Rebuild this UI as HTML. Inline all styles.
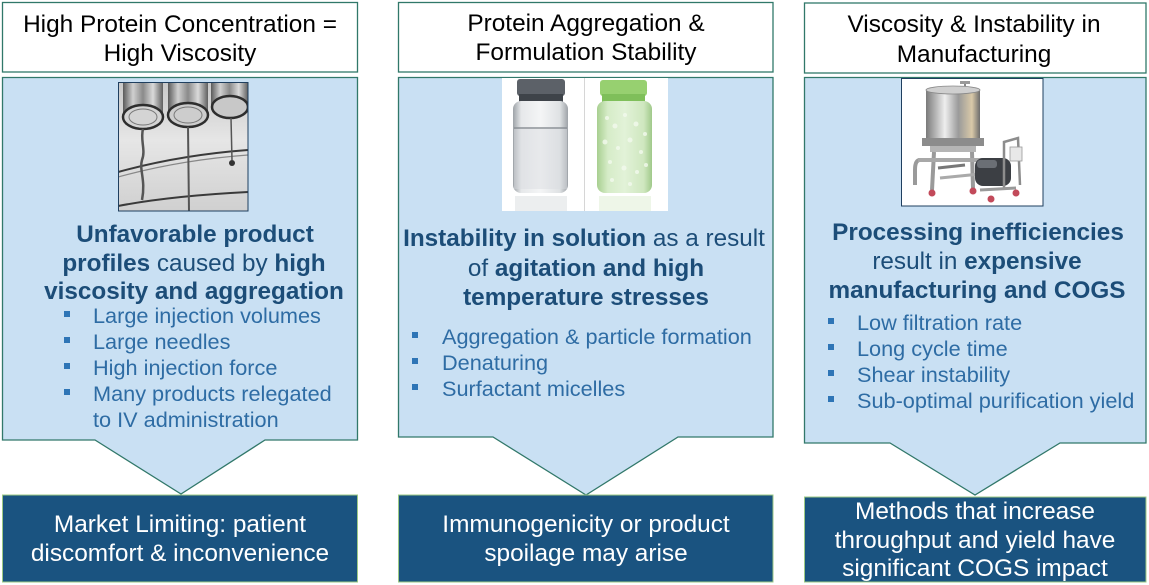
<!DOCTYPE html>
<html><head><meta charset="utf-8"><style>
html,body{margin:0;padding:0;background:#fff;}
svg{display:block;}
text{font-family:"Liberation Sans",Arial,sans-serif;}
</style></head><body>
<svg width="1149" height="585" viewBox="0 0 1149 585" xmlns="http://www.w3.org/2000/svg">
<defs>
<linearGradient id="g1bg" x1="0" y1="0" x2="0" y2="1"><stop offset="0" stop-color="#c8c8c8"/><stop offset="0.45" stop-color="#e6e6e6"/><stop offset="1" stop-color="#d0d0d0"/></linearGradient>
<linearGradient id="tube" x1="0" y1="0" x2="1" y2="0"><stop offset="0" stop-color="#5a5a5a"/><stop offset="0.25" stop-color="#d0d0d0"/><stop offset="0.5" stop-color="#8a8a8a"/><stop offset="0.75" stop-color="#dadada"/><stop offset="1" stop-color="#606060"/></linearGradient>
<linearGradient id="steel" x1="0" y1="0" x2="1" y2="0"><stop offset="0" stop-color="#7a7a7a"/><stop offset="0.35" stop-color="#eeeeee"/><stop offset="0.6" stop-color="#9a9a9a"/><stop offset="0.85" stop-color="#d9c9a8"/><stop offset="1" stop-color="#6d6d6d"/></linearGradient>
<linearGradient id="glass" x1="0" y1="0" x2="1" y2="0"><stop offset="0" stop-color="#9ea3a8"/><stop offset="0.15" stop-color="#e6e8ea"/><stop offset="0.5" stop-color="#f4f5f6"/><stop offset="0.85" stop-color="#dfe2e4"/><stop offset="1" stop-color="#9ea3a8"/></linearGradient>
<linearGradient id="gglass" x1="0" y1="0" x2="1" y2="0"><stop offset="0" stop-color="#a8cf90"/><stop offset="0.2" stop-color="#d6ecc8"/><stop offset="0.5" stop-color="#e2f2d8"/><stop offset="0.85" stop-color="#cfe7bf"/><stop offset="1" stop-color="#a0c98a"/></linearGradient>
<clipPath id="c1"><rect x="118" y="82" width="130" height="129"/></clipPath>
<clipPath id="c3"><rect x="901" y="78" width="142" height="128"/></clipPath>
</defs>

<!-- ===== Column 1 ===== -->
<rect x="2.5" y="2.5" width="355" height="69.5" fill="#fff" stroke="#31786a" stroke-width="1.3"/>
<text x="180" y="32" font-size="24.4" fill="#000" text-anchor="middle">High Protein Concentration =</text>
<text x="180" y="61" font-size="24.4" fill="#000" text-anchor="middle">High Viscosity</text>

<path d="M2.5,77.5 H357.5 V440 H265 L181,494 L95,440 H2.5 Z" fill="#c9e0f3" stroke="#31786a" stroke-width="1.3"/>

<!-- image 1 -->
<g clip-path="url(#c1)">
<rect x="118" y="82" width="130" height="129" fill="url(#g1bg)"/>
<rect x="123" y="78" width="40" height="40" fill="url(#tube)"/>
<rect x="168" y="78" width="40" height="38" fill="url(#tube)"/>
<rect x="211" y="78" width="37" height="30" fill="url(#tube)"/>
<ellipse cx="143" cy="117" rx="20" ry="12" fill="#d4d4d4" stroke="#2e2e2e" stroke-width="2.5"/>
<ellipse cx="143" cy="117" rx="14" ry="8" fill="none" stroke="#777" stroke-width="1"/>
<ellipse cx="188" cy="115" rx="20" ry="12" fill="#cdcdcd" stroke="#2e2e2e" stroke-width="2.5"/>
<ellipse cx="188" cy="115" rx="14" ry="8" fill="none" stroke="#777" stroke-width="1"/>
<ellipse cx="230" cy="107" rx="18" ry="11" fill="#c8c8c8" stroke="#2e2e2e" stroke-width="2.5"/>
<path d="M118,172 Q180,155 248,150" fill="none" stroke="#3a3a3a" stroke-width="2"/>
<path d="M118,177 Q180,160 248,155" fill="none" stroke="#888" stroke-width="1.2"/>
<path d="M118,206 Q170,196 248,192" fill="none" stroke="#3a3a3a" stroke-width="2"/>
<path d="M143,129 C140,140 146,150 142,160 C139,170 146,180 142,200" fill="none" stroke="#555" stroke-width="2.5"/>
<path d="M188,127 L189,211" fill="none" stroke="#555" stroke-width="2"/>
<path d="M231,118 L232,160" fill="none" stroke="#555" stroke-width="1.5"/>
<circle cx="232" cy="163" r="3" fill="#333"/>
</g>
<rect x="118.5" y="82.5" width="129.5" height="128.5" fill="none" stroke="#1f3f5f" stroke-width="1"/>

<text x="195" y="242" font-size="24.3" font-weight="bold" fill="#1c4d78" text-anchor="middle">Unfavorable product</text>
<text x="194" y="271" font-size="24.3" fill="#1c4d78" text-anchor="middle"><tspan font-weight="bold">profiles</tspan> caused by <tspan font-weight="bold">high</tspan></text>
<text x="194" y="299" font-size="24.3" font-weight="bold" fill="#1c4d78" text-anchor="middle">viscosity and aggregation</text>

<g fill="#2e75b6">
<rect x="64" y="311" width="6" height="6"/>
<rect x="64" y="337" width="6" height="6"/>
<rect x="64" y="363" width="6" height="6"/>
<rect x="64" y="389" width="6" height="6"/>
</g>
<g font-size="21.7" fill="#2e6ca4">
<text x="93" y="323">Large injection volumes</text>
<text x="93" y="349">Large needles</text>
<text x="93" y="375">High injection force</text>
<text x="93" y="401">Many products relegated</text>
<text x="93" y="427">to IV administration</text>
</g>

<rect x="2.5" y="495" width="355" height="87" fill="#1a5380" stroke="#9cc984" stroke-width="1"/>
<text x="180" y="532" font-size="24.4" fill="#fff" text-anchor="middle">Market Limiting: patient</text>
<text x="180" y="561" font-size="24.4" fill="#fff" text-anchor="middle">discomfort &amp; inconvenience</text>

<!-- ===== Column 2 ===== -->
<rect x="398.5" y="2.5" width="374.5" height="69.5" fill="#fff" stroke="#31786a" stroke-width="1.3"/>
<text x="586" y="31" font-size="24.4" fill="#000" text-anchor="middle">Protein Aggregation &amp;</text>
<text x="586" y="60" font-size="24.4" fill="#000" text-anchor="middle">Formulation Stability</text>

<path d="M398.5,77.5 H773 V437 H678 L586,495 L493,437 H398.5 Z" fill="#c9e0f3" stroke="#31786a" stroke-width="1.3"/>

<!-- image 2 -->
<rect x="502" y="78" width="166" height="133" fill="#fff"/>
<line x1="584.5" y1="78" x2="584.5" y2="211" stroke="#d6d6d6" stroke-width="1"/>
<rect x="517" y="79" width="48" height="17" rx="3" fill="#5c6168"/>
<rect x="519" y="94" width="44" height="8" fill="#3e4349"/>
<rect x="513" y="101" width="55" height="92" rx="8" fill="url(#glass)"/>
<line x1="514" y1="128" x2="567" y2="128" stroke="#8c9197" stroke-width="1.5"/>
<rect x="514" y="129" width="53" height="60" fill="#d9dcdf" opacity="0.45"/>
<rect x="515" y="196" width="52" height="15" fill="#eceeef"/>
<rect x="600" y="80" width="47" height="16" rx="3" fill="#97d070"/>
<rect x="602" y="94" width="43" height="8" fill="#7fbf5a"/>
<rect x="597" y="101" width="55" height="92" rx="8" fill="url(#gglass)"/>
<g fill="#f3faee" opacity="0.8">
<circle cx="607" cy="118" r="2"/><circle cx="615" cy="126" r="2.5"/><circle cx="625" cy="115" r="2"/><circle cx="636" cy="124" r="2.5"/><circle cx="645" cy="134" r="2"/>
<circle cx="605" cy="142" r="2.5"/><circle cx="618" cy="148" r="2"/><circle cx="630" cy="140" r="2.5"/><circle cx="641" cy="152" r="2"/><circle cx="610" cy="162" r="2"/>
<circle cx="624" cy="168" r="2.5"/><circle cx="637" cy="172" r="2"/><circle cx="646" cy="165" r="2"/><circle cx="612" cy="180" r="2"/><circle cx="630" cy="184" r="2"/>
</g>
<rect x="599" y="196" width="52" height="15" fill="#eef6e8"/>

<text x="584" y="246" font-size="24.3" fill="#1c4d78" text-anchor="middle"><tspan font-weight="bold">Instability in solution</tspan> as a result</text>
<text x="586" y="276" font-size="24.3" fill="#1c4d78" text-anchor="middle">of <tspan font-weight="bold">agitation and high</tspan></text>
<text x="586" y="305" font-size="24.3" font-weight="bold" fill="#1c4d78" text-anchor="middle">temperature stresses</text>

<g fill="#2e75b6">
<rect x="412" y="332" width="6" height="6"/>
<rect x="412" y="358" width="6" height="6"/>
<rect x="412" y="384" width="6" height="6"/>
</g>
<g font-size="21.7" fill="#2e6ca4">
<text x="442" y="344">Aggregation &amp; particle formation</text>
<text x="442" y="370">Denaturing</text>
<text x="442" y="396">Surfactant micelles</text>
</g>

<rect x="398.5" y="495" width="374.5" height="87" fill="#1a5380" stroke="#9cc984" stroke-width="1"/>
<text x="586" y="532" font-size="24.4" fill="#fff" text-anchor="middle">Immunogenicity or product</text>
<text x="586" y="561" font-size="24.4" fill="#fff" text-anchor="middle">spoilage may arise</text>

<!-- ===== Column 3 ===== -->
<rect x="804.5" y="3" width="341.5" height="70" fill="#fff" stroke="#31786a" stroke-width="1.3"/>
<text x="974" y="32" font-size="24.4" fill="#000" text-anchor="middle">Viscosity &amp; Instability in</text>
<text x="974" y="62" font-size="24.4" fill="#000" text-anchor="middle">Manufacturing</text>

<path d="M804.5,77.5 H1146 V443 H1060 L975,495 L890,443 H804.5 Z" fill="#c9e0f3" stroke="#31786a" stroke-width="1.3"/>

<!-- image 3 -->
<rect x="901" y="78" width="142" height="128" fill="#fff"/>
<g clip-path="url(#c3)">
<line x1="965" y1="82" x2="965" y2="90" stroke="#888" stroke-width="2"/>
<rect x="960" y="81" width="10" height="3" fill="#999"/>
<rect x="926" y="89" width="54" height="52" fill="url(#steel)"/>
<ellipse cx="953" cy="90" rx="27" ry="4" fill="#cfcfcf" stroke="#888" stroke-width="0.8"/>
<rect x="922" y="138" width="62" height="8" fill="#8c8c8c"/>
<rect x="930" y="146" width="46" height="6" fill="#b5b5b5"/>
<path d="M934,152 L932,190 M972,152 L973,188 M920,160 Q915,160 915,170 L915,185" fill="none" stroke="#9a9a9a" stroke-width="4"/>
<path d="M918,160 H990" stroke="#a8a8a8" stroke-width="4"/>
<path d="M940,178 L1000,172" stroke="#aaa" stroke-width="3"/>
<path d="M938,168 L965,165" stroke="#777" stroke-width="3"/>
<rect x="975" y="158" width="36" height="28" rx="8" fill="#3c3f44"/>
<rect x="977" y="160" width="20" height="8" rx="3" fill="#6b6f75"/>
<path d="M1004,188 L1004,142 L1018,138 L1020,185" fill="none" stroke="#8d8d8d" stroke-width="2.5"/>
<rect x="1010" y="147" width="12" height="14" fill="#e8e8e8" stroke="#999" stroke-width="0.8"/>
<path d="M980,190 L1016,188" stroke="#999" stroke-width="3"/>
<g fill="#c24a5a">
<circle cx="932" cy="193" r="3.5"/><circle cx="973" cy="191" r="3.5"/><circle cx="991" cy="199" r="3.5"/><circle cx="1016" cy="193" r="3.5"/>
</g>
</g>
<rect x="901.5" y="78.5" width="141.5" height="127.5" fill="none" stroke="#1f3f5f" stroke-width="1"/>

<text x="978" y="240" font-size="24.3" font-weight="bold" fill="#1c4d78" text-anchor="middle">Processing inefficiencies</text>
<text x="977" y="269" font-size="24.3" fill="#1c4d78" text-anchor="middle">result in <tspan font-weight="bold">expensive</tspan></text>
<text x="977" y="298" font-size="24.3" font-weight="bold" fill="#1c4d78" text-anchor="middle">manufacturing and COGS</text>

<g fill="#2e75b6">
<rect x="828" y="318" width="6" height="6"/>
<rect x="828" y="344" width="6" height="6"/>
<rect x="828" y="370" width="6" height="6"/>
<rect x="828" y="396" width="6" height="6"/>
</g>
<g font-size="21.7" fill="#2e6ca4">
<text x="857" y="330">Low filtration rate</text>
<text x="857" y="356">Long cycle time</text>
<text x="857" y="382">Shear instability</text>
<text x="857" y="408">Sub-optimal purification yield</text>
</g>

<rect x="804.5" y="497" width="341.5" height="85" fill="#1a5380" stroke="#9cc984" stroke-width="1"/>
<text x="975" y="519" font-size="24.4" fill="#fff" text-anchor="middle">Methods that increase</text>
<text x="975" y="548" font-size="24.4" fill="#fff" text-anchor="middle">throughput and yield have</text>
<text x="975" y="576" font-size="24.4" fill="#fff" text-anchor="middle">significant COGS impact</text>
</svg>
</body></html>
